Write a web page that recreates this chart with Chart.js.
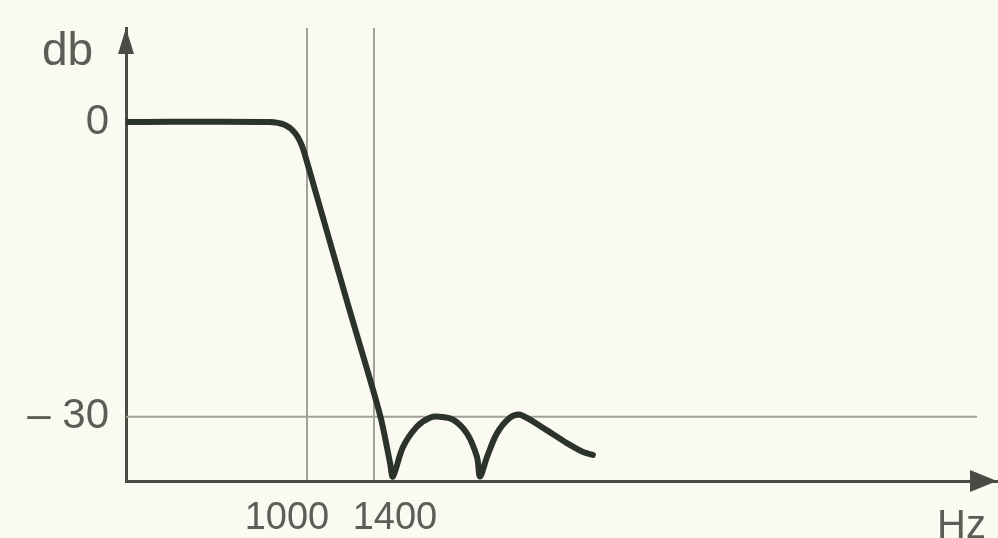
<!DOCTYPE html>
<html>
<head>
<meta charset="utf-8">
<script src="https://cdn.jsdelivr.net/npm/chart.js@4.4.1/dist/chart.umd.min.js"></script>
<style>
  html, body { margin: 0; background: #fbfaf0; }
  #wrap { width: 998px; height: 538px; }
</style>
</head>
<body>
<div id="wrap"><canvas id="myChart"></canvas></div>
<script>
// filter response
const freqHz = [-80, 779, 869, 928, 970, 1006, 1048, 1245, 1436, 1496, 1513,
  1573, 1657, 1734, 1794, 1872, 1955, 2015, 2033, 2075, 2134, 2212, 2272, 2433, 2552, 2648, 2707];
const gainDb = [0, 0, -0.3, -1.1, -2.4, -4.4, -6.9, -18.6, -29.8, -34.7, -36.1,
  -33.1, -31.0, -30.1, -30.0, -30.3, -31.7, -34.1, -36.1, -34.1, -31.7, -30.1, -29.8, -31.4, -32.7, -33.6, -33.9];

// -30 db reference level
const levelHz = [-80, 5000];
const levelDb = [-30, -30];

const xTicks = [1000, 1400];
const xTickLabels = ["1000", "1400"];
const yTicks = [-30, 0];
const yTickLabels = ["\u2013 30", "0"];

const textColor = "#5c5c58";
const axisColor = "#4a4a46";
const gridColor = "#a2a29a";
const FONT = "Liberation Sans, Arial, sans-serif";

const decor = {
  id: "decor",
  afterDraw(chart) {
    const { ctx, chartArea: a, scales: { x } } = chart;
    ctx.save();
    ctx.fillStyle = axisColor;
    // arrow heads
    ctx.beginPath();
    ctx.moveTo(a.left, a.top);
    ctx.lineTo(a.left - 8, a.top + 26);
    ctx.lineTo(a.left + 8, a.top + 26);
    ctx.closePath();
    ctx.fill();
    ctx.beginPath();
    ctx.moveTo(a.right - 1, a.bottom);
    ctx.lineTo(a.right - 28, a.bottom - 11);
    ctx.lineTo(a.right - 28, a.bottom + 11);
    ctx.closePath();
    ctx.fill();

    ctx.fillStyle = textColor;
    ctx.font = "38px " + FONT;
    ctx.textAlign = "center";
    ctx.textBaseline = "middle";
    const shift = [-20, 21]; // labels pushed apart so they don't collide
    xTicks.forEach((v, i) => {
      ctx.fillText(xTickLabels[i], x.getPixelForValue(v) + shift[i], a.bottom + 38);
    });
    ctx.textAlign = "left";
    ctx.textBaseline = "alphabetic";
    ctx.font = "46px " + FONT;
    ctx.fillText("db", 42, 65);
    ctx.font = "40px " + FONT;
    ctx.textBaseline = "top";
    ctx.fillText("Hz", 937, 507);
    ctx.restore();
  }
};

const ctx = document.getElementById("myChart").getContext("2d");

new Chart(ctx, {
  type: "line",
  data: {
    datasets: [
      {
        data: freqHz.map((f, i) => ({ x: f, y: gainDb[i] })),
        borderColor: "#2c322c",
        borderWidth: 6,
        borderCapStyle: "round",
        borderJoinStyle: "round",
        pointRadius: 0,
        tension: 0.3
      },
      {
        data: levelHz.map((f, i) => ({ x: f, y: levelDb[i] })),
        borderColor: gridColor,
        borderWidth: 2,
        pointRadius: 0
      }
    ]
  },
  options: {
    responsive: true,
    maintainAspectRatio: false,
    animation: false,
    layout: { padding: { top: 28, right: 0, left: 0, bottom: 0 } },
    plugins: { legend: { display: false }, tooltip: { enabled: false } },
    scales: {
      x: {
        type: "linear",
        min: -80,
        max: 5125,
        afterFit: s => { s.height = 57; s.paddingLeft = 0; s.paddingRight = 0; },
        afterBuildTicks: s => { s.ticks = xTicks.map(v => ({ value: v })); },
        ticks: { display: false },
        grid: { color: gridColor, lineWidth: 2, drawTicks: false },
        border: { color: axisColor, width: 3 }
      },
      y: {
        type: "linear",
        min: -36.55,
        max: 9.57,
        afterFit: s => { s.width = 126; s.paddingTop = 0; s.paddingBottom = 0; },
        afterBuildTicks: s => { s.ticks = yTicks.map(v => ({ value: v })); },
        ticks: {
          padding: 17,
          color: textColor,
          font: { family: FONT, size: 42 },
          callback: v => yTickLabels[yTicks.indexOf(v)]
        },
        grid: { display: false, drawTicks: false },
        border: { color: axisColor, width: 3 }
      }
    }
  },
  plugins: [decor]
});
</script>
</body>
</html>
